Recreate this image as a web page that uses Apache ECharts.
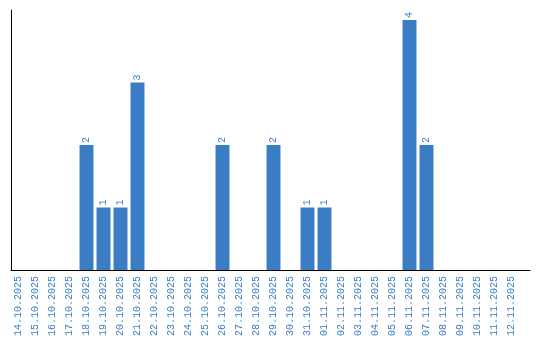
<!DOCTYPE html>
<html>
<head>
<meta charset="utf-8">
<script src="https://cdn.jsdelivr.net/npm/echarts@6/dist/echarts.min.js"></script>
<style>html,body{margin:0;padding:0;background:#fff}#c{width:540px;height:340px}</style>
</head>
<body>
<div id="c"></div>
<script>
const categories = ['14.10.2025','15.10.2025','16.10.2025','17.10.2025','18.10.2025','19.10.2025','20.10.2025','21.10.2025','22.10.2025','23.10.2025','24.10.2025','25.10.2025','26.10.2025','27.10.2025','28.10.2025','29.10.2025','30.10.2025','31.10.2025','01.11.2025','02.11.2025','03.11.2025','04.11.2025','05.11.2025','06.11.2025','07.11.2025','08.11.2025','09.11.2025','10.11.2025','11.11.2025','12.11.2025'];
const counts = [0,0,0,0,2,1,1,3,0,0,0,0,2,0,0,2,0,1,1,0,0,0,0,4,2,0,0,0,0,0];
const yMax = 4;

const blue = '#3b7dc4';
const chart = echarts.init(document.getElementById('c'), null, {renderer:'canvas'});
chart.setOption({
  animation: false,
  grid: [
    {left: 10, top: 20, width: 510, bottom: 70, containLabel: false},
    {left: 11, top: 10, right: 10, bottom: 70, containLabel: false}
  ],
  xAxis: [
    {type: 'category', gridIndex: 0, data: categories,
     axisLine: {show: false}, axisTick: {show: false},
     axisLabel: {rotate: 90, interval: 0, color: blue, fontFamily: 'Liberation Mono', fontSize: 10, margin: 6}},
    {type: 'category', gridIndex: 1, data: [],
     axisLine: {show: true, lineStyle: {color: '#000', width: 1}}, axisTick: {show: false}, axisLabel: {show: false}}
  ],
  yAxis: [
    {type: 'value', gridIndex: 0, min: 0, max: yMax, show: false, splitLine: {show: false}},
    {type: 'value', gridIndex: 1, min: 0, max: 1,
     axisLine: {show: true, lineStyle: {color: '#000', width: 1}}, axisTick: {show: false}, axisLabel: {show: false}, splitLine: {show: false}}
  ],
  series: [{
    type: 'bar', xAxisIndex: 0, yAxisIndex: 0, data: counts,
    barCategoryGap: '18%',
    itemStyle: {color: blue},
    label: {
      show: true, position: 'top', rotate: 90, align: 'left', verticalAlign: 'middle', distance: 2,
      color: blue, fontFamily: 'Liberation Mono', fontSize: 10,
      formatter: p => p.value > 0 ? String(p.value) : ''
    }
  }]
});
</script>
</body>
</html>
